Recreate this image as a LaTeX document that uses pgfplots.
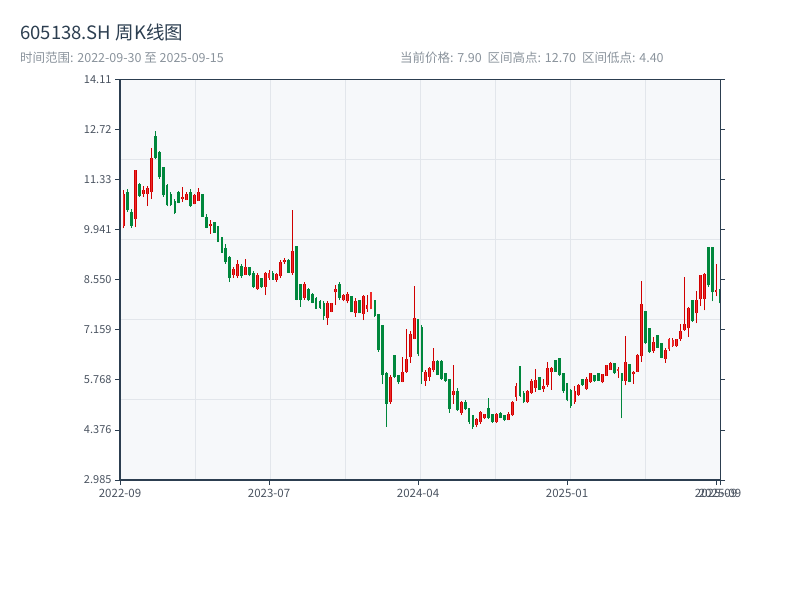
\documentclass[border=0pt]{standalone}
\usepackage{pgfplots}
\pgfplotsset{compat=1.18}
\usepackage{pgfplotstable}
\usepackage{fontspec}
\setmainfont{Noto Sans CJK SC}
\definecolor{upc}{HTML}{D00000}
\definecolor{upfill}{HTML}{EE2A2A}
\definecolor{dnc}{HTML}{00873C}
\definecolor{axc}{HTML}{2C3E50}
\definecolor{gridc}{HTML}{E2E6EB}
\definecolor{bgc}{HTML}{F6F8FA}
\definecolor{subc}{HTML}{8A939C}
\definecolor{tickc}{HTML}{4A5360}

% rising weeks (close >= open)
\pgfplotstableread{
i o h l c
1 10.05 11.05 9.98 10.95
4 10.24 11.60 10.02 11.60
6 10.95 11.15 10.85 11.05
7 10.95 11.15 10.60 11.10
8 11.00 12.22 10.80 11.94
16 10.80 11.13 10.72 10.86
17 10.78 11.00 10.77 10.95
19 10.65 10.94 10.65 10.90
20 10.75 11.11 10.75 11.00
23 10.05 10.22 9.83 10.10
29 8.70 8.90 8.60 8.85
30 8.65 9.10 8.60 9.00
32 8.70 9.13 8.68 8.90
35 8.30 8.75 8.27 8.70
37 8.35 8.78 8.13 8.75
38 8.60 8.82 8.55 8.75
40 8.55 8.75 8.50 8.72
41 8.65 9.10 8.60 9.05
42 9.05 9.15 9.00 9.10
44 8.75 10.49 8.70 9.35
47 8.05 8.50 8.00 8.45
53 7.50 7.95 7.30 7.90
54 7.67 7.92 7.65 7.90
55 8.20 8.40 7.85 8.30
57 7.98 8.15 7.95 8.12
58 7.95 8.20 7.90 8.15
60 7.62 8.05 7.53 7.95
62 7.60 8.13 7.43 8.10
63 7.75 8.13 7.66 7.85
64 7.75 8.22 7.73 8.20
69 5.15 5.90 5.10 5.85
72 5.72 6.40 5.70 6.00
73 6.00 7.18 5.97 6.35
74 6.40 7.12 6.25 7.05
75 6.90 8.38 6.90 7.50
78 5.75 6.05 5.60 6.00
79 5.85 6.13 5.75 6.10
80 6.05 6.65 6.00 6.30
85 5.35 6.19 5.10 5.45
87 4.85 5.17 4.80 5.15
91 4.52 4.70 4.45 4.68
92 4.60 4.90 4.55 4.88
93 4.70 4.83 4.68 4.82
96 4.60 4.86 4.58 4.83
99 4.65 4.87 4.65 4.83
100 4.78 5.19 4.77 5.15
101 5.30 5.68 5.19 5.60
104 5.15 5.50 5.12 5.45
105 5.40 5.79 5.38 5.75
106 5.55 6.07 5.44 5.77
108 5.52 5.80 5.44 5.60
109 5.63 6.27 5.58 6.11
110 6.00 6.14 5.49 6.10
116 5.15 5.60 5.10 5.45
117 5.35 5.65 5.33 5.62
119 5.52 5.85 5.50 5.80
120 5.70 5.96 5.69 5.95
123 5.70 5.93 5.67 5.92
124 5.88 6.19 5.88 6.18
125 6.05 6.28 6.05 6.25
127 6.03 6.14 5.83 6.07
129 5.75 6.99 5.62 6.28
131 5.92 6.03 5.66 6.00
132 6.00 6.50 5.99 6.45
133 6.42 8.52 6.28 7.88
136 6.57 6.95 6.53 6.81
139 6.35 6.65 6.25 6.60
140 6.62 6.93 6.58 6.92
141 6.70 6.93 6.69 6.88
142 6.70 6.91 6.69 6.90
143 6.90 7.32 6.86 7.14
144 7.15 8.64 7.14 7.32
145 7.20 7.80 6.96 7.76
147 7.62 8.24 7.34 7.99
148 8.01 8.70 7.82 8.68
149 8.02 8.74 7.70 8.71
152 8.20 9.00 8.09 8.27
}\upT

% falling weeks (close < open)
\pgfplotstableread{
i o h l c
0 10.66 10.70 10.20 10.25
2 11.00 11.08 10.44 10.50
3 10.45 10.52 9.99 10.05
5 11.22 11.25 10.86 10.89
9 12.55 12.70 11.91 11.95
10 12.10 12.13 11.36 11.40
11 11.70 11.70 10.86 10.90
12 11.20 11.22 10.60 10.62
13 10.95 11.00 10.60 10.62
14 10.74 10.80 10.38 10.40
15 11.00 11.02 10.68 10.70
18 11.00 11.08 10.58 10.60
21 10.94 10.94 10.30 10.30
22 10.30 10.38 9.98 10.00
24 10.15 10.16 9.86 9.86
25 10.05 10.05 9.60 9.60
26 9.75 9.75 9.30 9.30
27 9.45 9.55 9.00 9.05
28 9.20 9.22 8.49 8.60
31 8.95 9.00 8.60 8.65
33 8.90 8.92 8.65 8.68
34 8.75 8.80 8.32 8.35
36 8.60 8.60 8.33 8.34
39 8.75 8.80 8.55 8.55
43 9.10 9.13 8.75 8.75
45 9.50 9.50 7.98 8.00
46 8.45 8.45 7.80 8.00
48 8.30 8.32 7.95 7.98
49 8.15 8.18 7.90 7.92
50 8.05 8.08 7.75 7.75
51 7.95 7.98 7.75 7.78
52 7.90 7.95 7.43 7.55
56 8.45 8.50 7.99 8.05
59 8.10 8.10 7.65 7.65
61 7.98 8.00 7.62 7.62
65 7.98 8.00 7.53 7.55
66 7.60 7.60 6.55 6.60
67 7.30 7.30 5.65 5.90
68 5.95 6.00 4.47 5.10
70 6.45 6.45 5.82 5.85
71 5.90 5.90 5.65 5.70
76 7.45 7.45 6.42 6.50
77 7.25 7.30 5.65 6.00
81 6.30 6.32 5.90 5.90
82 6.30 6.32 5.78 5.80
83 5.95 5.97 5.72 5.75
84 5.80 5.80 4.85 4.95
86 5.45 5.55 4.90 4.92
88 5.15 5.20 4.93 4.95
89 5.00 5.00 4.55 4.60
90 4.80 4.80 4.40 4.45
94 5.00 5.27 4.68 4.70
95 4.82 4.83 4.58 4.60
97 4.85 4.88 4.70 4.72
98 4.78 4.78 4.62 4.65
102 6.15 6.15 5.30 5.32
103 5.40 5.45 5.12 5.15
107 5.85 5.86 5.49 5.50
111 6.32 6.32 5.99 6.00
112 6.37 6.37 5.88 5.90
113 5.95 5.96 5.41 5.45
114 5.68 5.68 5.17 5.20
115 5.50 5.52 4.99 5.05
118 5.80 5.80 5.60 5.62
121 5.90 5.90 5.72 5.73
122 5.95 5.96 5.74 5.75
126 6.23 6.23 5.93 5.95
128 5.95 5.97 4.70 5.75
130 6.20 6.20 5.70 5.72
134 7.68 7.69 6.78 6.80
135 7.20 7.20 6.53 6.55
137 7.02 7.02 6.65 6.67
138 6.80 6.80 6.37 6.38
146 7.99 7.99 7.39 7.40
150 9.47 9.47 8.36 8.40
151 9.47 9.47 7.95 8.20
153 8.30 8.32 7.88 7.90
}\dnT

\pgfplotsset{
  candle/.style 2 args={draw=none, mark=none, forget plot,
    error bars/.cd, y dir=plus, y explicit, error mark=none,
    error bar style={draw=#1, line width=#2, solid}},
}

\begin{document}
\begin{tikzpicture}
\path[use as bounding box] (0pt,0pt) rectangle (800pt,600pt);
\node[anchor=west, inner sep=0pt, font=\fontsize{18.5}{22}\selectfont, text=axc] at (20pt,567pt) {605138.SH 周K线图};
\node[anchor=west, inner sep=0pt, font=\fontsize{12.5}{15}\selectfont, text=subc] at (20pt,542pt) {时间范围: 2022-09-30 至 2025-09-15};
\node[anchor=west, inner sep=0pt, font=\fontsize{12.5}{15}\selectfont, text=subc] at (400pt,542pt) {当前价格: 7.90\hspace{6pt}区间高点: 12.70\hspace{6pt}区间低点: 4.40};
\begin{axis}[
  at={(120pt,120pt)}, anchor=south west,
  width=600pt, height=400pt, scale only axis,
  xmin=0, xmax=153, ymin=2.985, ymax=14.11,
  axis background/.style={fill=bgc},
  axis line style={draw=none},
  tick align=outside,
  major tick length=5pt,
  every tick/.style={axc, line width=1pt},
  xtick pos=left,
  ytick pos=both,
  xtick={0,38,76,114,152,153},
  xticklabels={2022-09,2023-07,2024-04,2025-01,2025-09,2025-09},
  ytick={2.985,4.375625,5.76625,7.156875,8.5475,9.938125,11.32875,12.719375,14.11},
  yticklabels={2.985,4.376,5.768,7.159,8.550,9.941,11.33,12.72,14.11},
  /pgf/number format/assume math mode=true,
  ticklabel style={font=\fontsize{11}{13}\selectfont, text=tickc},
  xticklabel style={yshift=-1pt, font=\fontsize{11.5}{13}\selectfont},
  extra x ticks={19.125,38.25,57.375,76.5,95.625,114.75,133.875},
  extra x tick labels={},
  extra x tick style={grid=major, major tick length=0pt, major grid style={gridc, line width=1pt}},
  extra y ticks={5.21,7.435,9.66,11.885},
  extra y tick labels={},
  extra y tick style={grid=major, major tick length=0pt, major grid style={gridc, line width=1pt}},
  clip=false,
]
% wicks
\addplot[candle={upc}{1pt}] table[x=i, y=l, y error expr=\thisrow{h}-\thisrow{l}] {\upT};
\addplot[candle={dnc}{1pt}] table[x=i, y=l, y error expr=\thisrow{h}-\thisrow{l}] {\dnT};
% bodies
\addplot[candle={upc}{2.8pt}] table[x=i, y=o, y error expr=\thisrow{c}-\thisrow{o}] {\upT};
\addplot[candle={upfill}{1.1pt}] table[x=i, y=o, y error expr=\thisrow{c}-\thisrow{o}] {\upT};
\addplot[candle={dnc}{2.8pt}] table[x=i, y=c, y error expr=\thisrow{o}-\thisrow{c}] {\dnT};
% frame
\draw[axc, line width=1pt] (rel axis cs:0,1) -- (rel axis cs:1,1) -- (rel axis cs:1,0);
\draw[axc, line width=2pt] (rel axis cs:0,1) -- (rel axis cs:0,0) -- (rel axis cs:1,0);
\end{axis}
\end{tikzpicture}
\end{document}
